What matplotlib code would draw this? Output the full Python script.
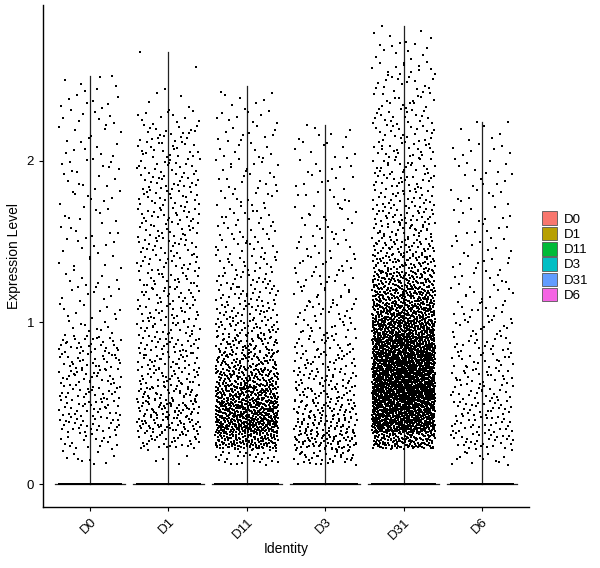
import numpy as np
import matplotlib
matplotlib.use("Agg")
import matplotlib.pyplot as plt
from matplotlib.patches import Patch

plt.rcParams['font.family'] = ['Liberation Sans', 'DejaVu Sans']

# groups and colours (ggplot default hue palette)
idents = ['D0', 'D1', 'D11', 'D3', 'D31', 'D6']
colors = ['#F8766D', '#B79F00', '#00BA38', '#00BFC4', '#619CFF', '#F564E3']

# cells with zero expression per group
zero_counts = [600, 600, 600, 600, 600, 600]

# counts of non-zero cells in 0.1-wide bins, starting at 0.12
bin_start = 0.12
bin_width = 0.1
counts_D0 = [10, 20, 30, 30, 30, 30, 30, 30, 12, 10, 10, 8, 8, 8, 8, 8, 8, 8, 10, 8, 8, 8, 8, 6, 1]
counts_D1 = [5, 35, 55, 55, 45, 35, 35, 32, 30, 28, 26, 25, 25, 25, 25, 25, 25, 25, 22, 22, 20, 12, 4, 1, 1, 1]
counts_D11 = [30, 150, 220, 200, 160, 110, 80, 60, 45, 35, 30, 25, 20, 18, 15, 14, 13, 12, 12, 10, 10, 10, 6, 1]
counts_D3 = [40, 70, 60, 50, 40, 35, 30, 25, 20, 18, 16, 15, 14, 12, 10, 10, 9, 8, 8, 8, 6, 1]
counts_D31 = [0, 150, 300, 350, 380, 370, 340, 290, 240, 190, 150, 110, 70, 50, 40, 35, 30, 28, 26, 24, 22, 20, 18, 16, 14, 10, 6, 1]
counts_D6 = [15, 30, 30, 28, 26, 24, 22, 20, 16, 14, 12, 11, 10, 9, 9, 8, 8, 8, 8, 7, 5, 2]
# highest value in each group (top of the violin)
max_vals = [2.52, 2.67, 2.46, 2.22, 2.83, 2.24]

all_counts = [counts_D0, counts_D1, counts_D11, counts_D3, counts_D31, counts_D6]


def radical_inverse(k, base):
    out = np.zeros(len(k))
    f = 1.0 / base
    k = k.copy()
    while np.any(k > 0):
        out += f * (k % base)
        k //= base
        f /= base
    return out


def spread(start, n):
    # Halton points in the unit square, stand in for the jitter
    k = np.arange(start, start + n)
    return radical_inverse(k, 2), radical_inverse(k, 3)


fig = plt.figure(figsize=(6, 5.68), dpi=100)
ax = fig.add_axes([0.0717, 0.1074, 0.81, 0.8836])

for i, (name, counts) in enumerate(zip(idents, all_counts)):
    pos = i + 1
    xs = []
    ys = []
    idx = 1 + 977 * i
    for b, n in enumerate(counts):
        if n == 0:
            continue
        u, v = spread(idx, n)
        idx += n
        xs.append(pos + (u - 0.5) * 0.8)
        ys.append(bin_start + b * bin_width + v * bin_width)
    xs = np.concatenate(xs)
    ys = np.minimum(np.concatenate(ys), max_vals[i])
    # violin (density collapses to a line for mostly-zero data)
    ax.plot([pos, pos], [0, max_vals[i]], color='#222222', lw=0.9, zorder=2)
    ax.plot([pos - 0.45, pos + 0.45], [0, 0], color='#222222', lw=0.9, zorder=2)
    zx = pos + (np.linspace(0, 1, zero_counts[i]) - 0.5) * 0.8
    ax.scatter(zx, np.zeros_like(zx), s=3, marker='s', c='black', linewidths=0, zorder=3)
    ax.scatter(xs, ys, s=3, marker='s', c='black', linewidths=0, zorder=3)

ax.set_xlim(0.4, 6.6)
ax.set_ylim(-0.14, 2.96)
ax.set_yticks([0, 1, 2])
ax.set_xticks(range(1, len(idents) + 1))
ax.set_xticklabels(idents, rotation=45, ha='right', rotation_mode='anchor')
ax.tick_params(labelsize=9.5, colors='black', length=3, width=0.8)
for s in ['top', 'right']:
    ax.spines[s].set_visible(False)
for s in ['left', 'bottom']:
    ax.spines[s].set_linewidth(1.0)
ax.set_xlabel('Identity', fontsize=10, labelpad=0)
ax.set_ylabel('Expression Level', fontsize=10)

handles = [Patch(facecolor=c, edgecolor='#555555', linewidth=0.6) for c in colors]
fig.legend(handles, idents, loc='center left', bbox_to_anchor=(0.892, 0.548),
           frameon=False, fontsize=9.5, handlelength=1.15, handleheight=1.2,
           handletextpad=0.5, labelspacing=0.08, borderpad=0)

fig.savefig('out.png', dpi=100)
